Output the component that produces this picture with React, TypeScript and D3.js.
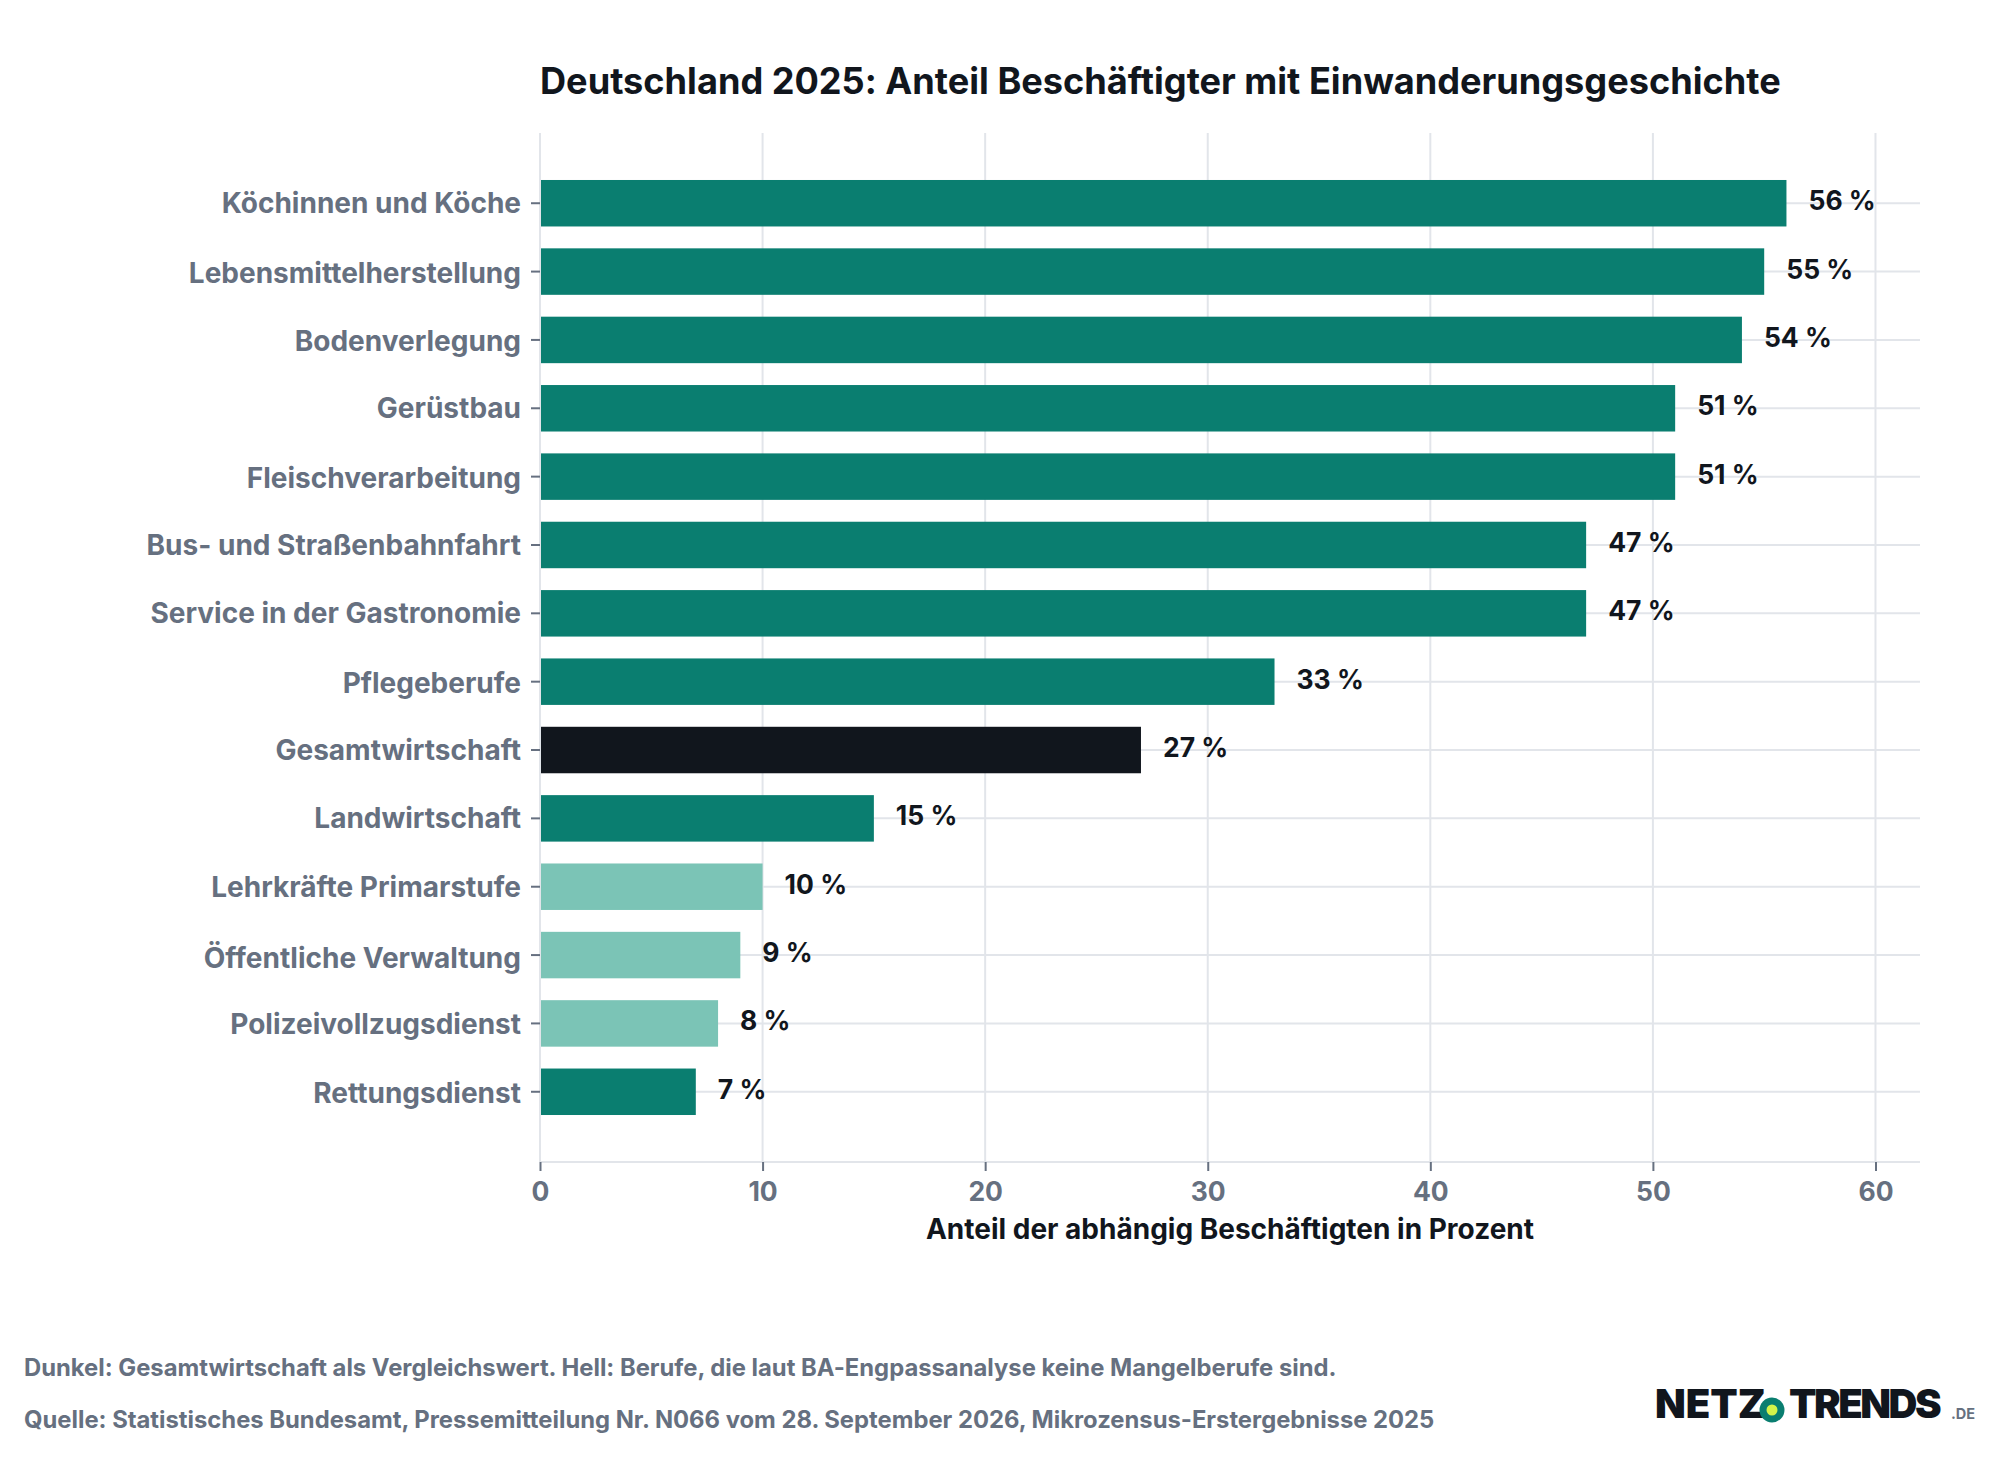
import React, { useEffect, useRef } from 'react';
import * as d3 from 'd3';

const categories = [
  'Köchinnen und Köche', 'Lebensmittelherstellung', 'Bodenverlegung', 'Gerüstbau',
  'Fleischverarbeitung', 'Bus- und Straßenbahnfahrt', 'Service in der Gastronomie',
  'Pflegeberufe', 'Gesamtwirtschaft', 'Landwirtschaft', 'Lehrkräfte Primarstufe',
  'Öffentliche Verwaltung', 'Polizeivollzugsdienst', 'Rettungsdienst',
];
const values = [56, 55, 54, 51, 51, 47, 47, 33, 27, 15, 10, 9, 8, 7];
const groups = ['m', 'm', 'm', 'm', 'm', 'm', 'm', 'm', 'g', 'm', 'k', 'k', 'k', 'm'];
const xTicks = [0, 10, 20, 30, 40, 50, 60];

const title = 'Deutschland 2025: Anteil Beschäftigter mit Einwanderungsgeschichte';
const xTitle = 'Anteil der abhängig Beschäftigten in Prozent';
const notes = [
  'Dunkel: Gesamtwirtschaft als Vergleichswert. Hell: Berufe, die laut BA-Engpassanalyse keine Mangelberufe sind.',
  'Quelle: Statistisches Bundesamt, Pressemitteilung Nr. N066 vom 28. September 2026, Mikrozensus-Erstergebnisse 2025',
];

const DARK = '#11161d';
const GRAY = '#667080';
const GRID = '#e2e5ea';
const FONT = 'Inter, sans-serif';

// the labels are centred on their ink, so the baseline moves with descenders and the big umlaut
const labelDy = (s: string) => 10 + (/[gpqjy]/.test(s) ? 1 : 0) + (s.startsWith('Ö') ? 2 : 0);

const App: React.FC = () => {
  const ref = useRef<SVGSVGElement | null>(null);

  useEffect(() => {
    if (!ref.current) return;
    const svg = d3.select(ref.current);
    svg.selectAll('*').remove();
    svg.attr('font-family', FONT).style('font-variant-ligatures', 'no-contextual');

    const left = 540, right = 1920, top = 133, bottom = 1162;
    const x = d3.scaleLinear().domain([0, 62]).range([left, right]);
    const y = d3.scaleBand<string>().domain(categories).range([top, bottom])
      .paddingInner(0.32).paddingOuter(0.6875);
    const color = d3.scaleOrdinal<string>().domain(['m', 'g', 'k']).range(['#0a7e70', DARK, '#7bc4b6']);

    // gridlines first so the bars sit on top
    const grid = svg.append('g').attr('stroke', GRID).attr('stroke-width', 2);
    xTicks.forEach(t => {
      grid.append('line').attr('x1', x(t)).attr('x2', x(t)).attr('y1', top).attr('y2', bottom);
    });
    categories.forEach(c => {
      const cy = y(c)! + y.bandwidth() / 2;
      grid.append('line').attr('x1', left).attr('x2', right).attr('y1', cy).attr('y2', cy);
    });
    grid.append('line').attr('x1', left).attr('x2', right).attr('y1', bottom).attr('y2', bottom);

    svg.append('g').selectAll('rect').data(categories).enter().append('rect')
      .attr('x', x(0) + 1)
      .attr('y', d => y(d)!)
      .attr('width', (d, i) => x(values[i]) - x(0) - 1)
      .attr('height', y.bandwidth())
      .attr('fill', (d, i) => color(groups[i]));

    svg.append('g').selectAll('text').data(categories).enter().append('text')
      .attr('x', (d, i) => x(values[i]) + 22)
      .attr('y', d => y(d)! + y.bandwidth() / 2 + 7)
      .attr('font-size', 26.5).attr('font-weight', 700).attr('fill', DARK)
      .text((d, i) => `${values[i]} %`);

    const xAxis = svg.append('g').attr('transform', `translate(0,${bottom})`)
      .call(d3.axisBottom(x).tickValues(xTicks).tickSize(9).tickPadding(7));
    xAxis.select('.domain').remove();
    xAxis.selectAll('line').attr('stroke', GRAY).attr('stroke-width', 2);
    xAxis.selectAll('text').attr('fill', GRAY).attr('font-size', 26.5).attr('font-weight', 700)
      .attr('font-family', FONT).attr('y', 39).attr('dy', 0);

    const yAxis = svg.append('g').attr('transform', `translate(${left},0)`)
      .call(d3.axisLeft(y).tickSize(9).tickPadding(10));
    yAxis.select('.domain').remove();
    yAxis.selectAll('line').attr('stroke', GRAY).attr('stroke-width', 2);
    yAxis.selectAll<SVGTextElement, string>('text').attr('fill', GRAY).attr('font-size', 28).attr('font-weight', 700)
      .attr('font-family', FONT).attr('dy', d => labelDy(d));

    svg.append('text').attr('x', 540).attr('y', 94)
      .attr('font-size', 36.15).attr('font-weight', 700).attr('fill', DARK).text(title);
    svg.append('text').attr('x', (left + right) / 2).attr('y', 1238.5).attr('text-anchor', 'middle')
      .attr('font-size', 28).attr('font-weight', 700).attr('fill', DARK).text(xTitle);

    notes.forEach((n, i) => {
      svg.append('text').attr('x', 24).attr('y', 1375.5 + i * 52)
        .attr('font-size', 23.8).attr('font-weight', 700).attr('fill', GRAY).text(n);
    });

    // logo
    const logo = svg.append('g');
    logo.append('text').attr('x', 1655).attr('y', 1418).attr('font-size', 40).attr('font-weight', 900)
      .attr('letter-spacing', 0).attr('fill', DARK).text('NETZ');
    logo.append('circle').attr('cx', 1772).attr('cy', 1410).attr('r', 12.5).attr('fill', '#0a7e70');
    logo.append('circle').attr('cx', 1772).attr('cy', 1410).attr('r', 5.5).attr('fill', '#d4f34a');
    logo.append('text').attr('x', 1789).attr('y', 1418).attr('font-size', 40).attr('font-weight', 900)
      .attr('letter-spacing', -2.5).attr('fill', DARK).text('TRENDS');
    logo.append('text').attr('x', 1951).attr('y', 1419).attr('font-size', 14.5).attr('font-weight', 700)
      .attr('fill', GRAY).text('.DE');
  }, []);

  return <svg ref={ref} width={2000} height={1480} style={{ position: 'absolute', left: 0, top: 0, background: '#fff' }} />;
};

export default App;
